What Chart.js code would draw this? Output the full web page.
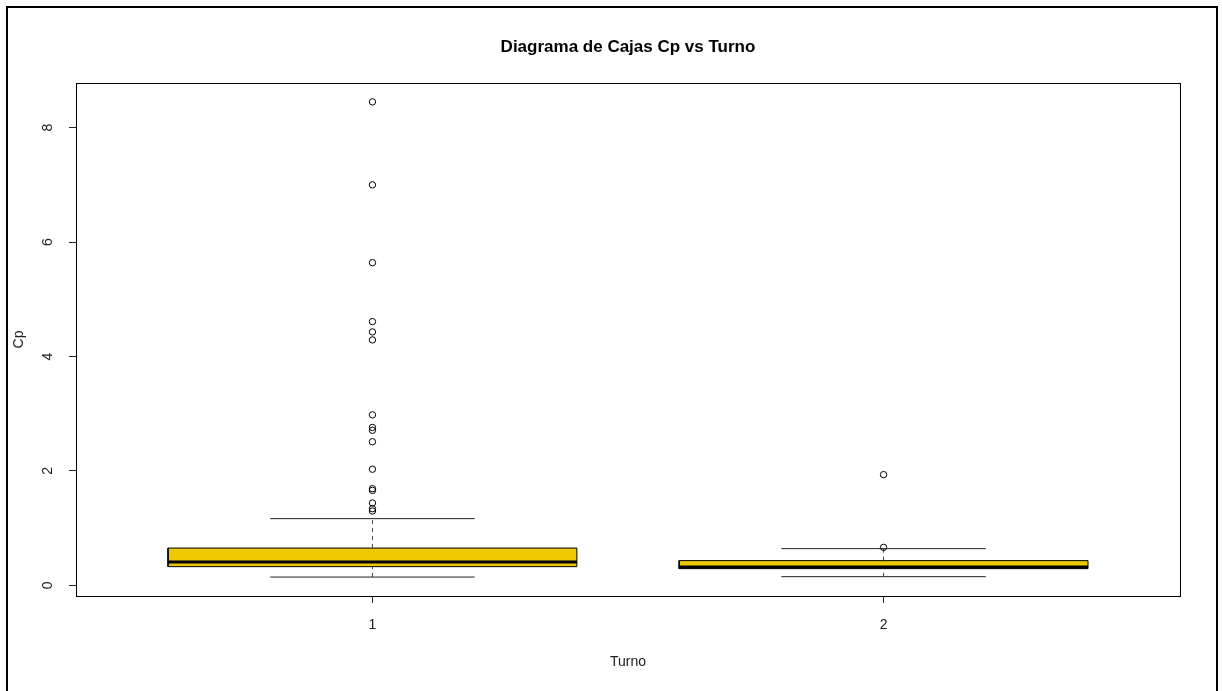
<!DOCTYPE html>
<html>
<head>
<meta charset="utf-8">
<title>Diagrama de Cajas Cp vs Turno</title>
<script src="https://cdn.jsdelivr.net/npm/chart.js@4.4.1/dist/chart.umd.min.js"></script>
<style>
  html, body { margin: 0; padding: 0; background: #fff; overflow: hidden; }
  #wrap { position: relative; width: 1222px; height: 691px; }
  #plot { position: absolute; left: 0; top: 0; }
  #frame {
    position: absolute; left: 6px; top: 6px; width: 1208px; height: 720px;
    border: 2px solid #000; pointer-events: none;
  }
</style>
</head>
<body>
<div id="wrap">
  <canvas id="plot" width="1222" height="691"></canvas>
  <div id="frame"></div>
</div>
<script>
// Turnos (categories) and the five-number summaries of Cp per turno
const categories = ['1', '2'];
const lowerWhisker = [0.145, 0.152];
const firstQuartile = [0.327, 0.292];
const medianValue = [0.407, 0.323];
const thirdQuartile = [0.652, 0.432];
const upperWhisker = [1.166, 0.642];

// Points beyond the whiskers
const outliersTurno1 = [8.45, 7.00, 5.64, 4.61, 4.43, 4.29, 2.98, 2.76, 2.71, 2.51, 2.03, 1.69, 1.66, 1.44, 1.34, 1.30];
const outliersTurno2 = [1.935, 0.664];

// Axis ticks
const yTickValues = [0, 2, 4, 6, 8];

const FONT = "'Liberation Sans', Arial, Helvetica, sans-serif";
const BOX_FILL = '#EEC900';
const BOX_HALF = 0.4;   // half of the box width, in x units
const CAP_HALF = 0.2;   // half of the whisker cap width

Chart.defaults.font.family = FONT;
Chart.defaults.color = '#000';

const segment = (pts, extra) => Object.assign({
  type: 'scatter', data: pts, showLine: true, pointRadius: 0,
  borderColor: '#000', borderWidth: 1, fill: false, tension: 0
}, extra);

const datasets = [];

// outliers on top
[outliersTurno1, outliersTurno2].forEach((vals, i) => {
  datasets.push({
    type: 'scatter',
    data: vals.map(v => ({ x: i + 1, y: v })),
    showLine: false, pointStyle: 'circle', pointRadius: 3.2,
    borderColor: '#000', borderWidth: 1, backgroundColor: 'rgba(0,0,0,0)'
  });
});

categories.forEach((c, i) => {
  const x = i + 1;
  // median
  datasets.push(segment([{ x: x - BOX_HALF, y: medianValue[i] }, { x: x + BOX_HALF, y: medianValue[i] }],
    { borderWidth: 3, borderCapStyle: 'butt' }));
  // whisker caps
  datasets.push(segment([{ x: x - CAP_HALF, y: upperWhisker[i] }, { x: x + CAP_HALF, y: upperWhisker[i] }], { borderColor: '#222' }));
  datasets.push(segment([{ x: x - CAP_HALF, y: lowerWhisker[i] }, { x: x + CAP_HALF, y: lowerWhisker[i] }], { borderColor: '#222' }));
  // dashed whisker stems
  datasets.push(segment([{ x: x, y: thirdQuartile[i] }, { x: x, y: upperWhisker[i] }], { borderDash: [4, 4], borderColor: '#444' }));
  datasets.push(segment([{ x: x, y: lowerWhisker[i] }, { x: x, y: firstQuartile[i] }], { borderDash: [4, 4], borderColor: '#444' }));
});

// boxes (drawn first, underneath)
categories.forEach((c, i) => {
  const x = i + 1;
  datasets.push(segment([
    { x: x - BOX_HALF, y: firstQuartile[i] },
    { x: x + BOX_HALF, y: firstQuartile[i] },
    { x: x + BOX_HALF, y: thirdQuartile[i] },
    { x: x - BOX_HALF, y: thirdQuartile[i] },
    { x: x - BOX_HALF, y: firstQuartile[i] }
  ], { fill: 'shape', backgroundColor: BOX_FILL }));
});

// plot frame and rotated y tick labels
const framePlugin = {
  id: 'plotFrame',
  afterDraw(chart) {
    const { ctx, chartArea: a, scales } = chart;
    ctx.save();
    ctx.strokeStyle = '#000';
    ctx.lineWidth = 1;
    ctx.strokeRect(Math.round(a.left) + 0.5, Math.round(a.top) + 0.5,
      Math.round(a.right - a.left), Math.round(a.bottom - a.top));
    ctx.fillStyle = '#222';
    ctx.font = '14px ' + FONT;
    ctx.textAlign = 'center';
    ctx.textBaseline = 'middle';
    scales.y.ticks.forEach(t => {
      const py = scales.y.getPixelForValue(t.value);
      ctx.save();
      ctx.translate(48, py);
      ctx.rotate(-Math.PI / 2);
      ctx.fillText(String(t.value), 0, 0);
      ctx.restore();
    });
    ctx.restore();
  }
};

new Chart(document.getElementById('plot'), {
  type: 'scatter',
  data: { datasets },
  plugins: [framePlugin],
  options: {
    responsive: false,
    animation: false,
    events: [],
    devicePixelRatio: 1,
    layout: { padding: { left: 0, right: 42, top: 0, bottom: 0 } },
    plugins: {
      legend: { display: false },
      tooltip: { enabled: false },
      title: {
        display: true,
        text: 'Diagrama de Cajas Cp vs Turno',
        fullSize: false,
        color: '#000',
        font: { family: FONT, size: 17, weight: 'bold' },
        padding: { top: 36.8, bottom: 25.8 }
      }
    },
    scales: {
      x: {
        type: 'linear',
        min: 0.42, max: 2.58,
        afterBuildTicks: s => { s.ticks = categories.map((c, i) => ({ value: i + 1 })); },
        afterFit: s => { s.height = 95; },
        ticks: {
          autoSkip: false, maxRotation: 0, padding: 14,
          font: { size: 14 }, color: '#222',
          callback: v => categories[v - 1]
        },
        grid: { display: true, drawOnChartArea: false, drawTicks: true, tickLength: 7, tickColor: '#222' },
        border: { display: false },
        title: { display: true, text: 'Turno', color: '#222', font: { size: 14 }, padding: { top: 0, bottom: 20.6 } }
      },
      y: {
        type: 'linear',
        min: -0.186, max: 8.78,
        afterBuildTicks: s => { s.ticks = yTickValues.map(v => ({ value: v })); },
        afterFit: s => { s.width = 76; },
        ticks: { display: false },
        grid: { display: true, drawOnChartArea: false, drawTicks: true, tickLength: 7, tickColor: '#222' },
        border: { display: false },
        title: { display: true, text: 'Cp', color: '#222', font: { size: 14 }, padding: { top: 10.6, bottom: 0 } }
      }
    }
  }
});
</script>
</body>
</html>
